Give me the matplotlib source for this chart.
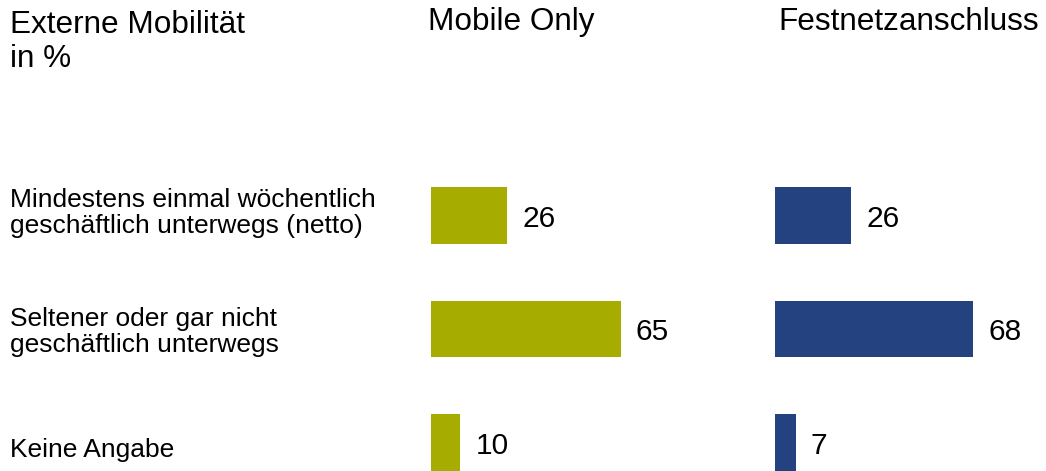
import matplotlib
matplotlib.use("Agg")
import matplotlib.pyplot as plt

plt.rcParams["font.family"] = ["Liberation Sans", "DejaVu Sans"]

# Daten
categories = [
    "Mindestens einmal wöchentlich\ngeschäftlich unterwegs (netto)",
    "Seltener oder gar nicht\ngeschäftlich unterwegs",
    "Keine Angabe",
]
mobile_only = [26, 65, 10]
festnetz = [26, 68, 7]
title = "Externe Mobilität\nin %"
group_titles = ["Mobile Only", "Festnetzanschluss"]

W, H = 1046, 471
GREEN = "#a6ad00"
BLUE = "#254280"


def fx(px):
    return px / W


def fy(py):
    return 1 - py / H


fig = plt.figure(figsize=(W / 100, H / 100), dpi=100)
fig.patch.set_facecolor("white")

# Achsen: 2.912 px pro Prozentpunkt, Zeilenabstand 113.5 px
ax_h = (471 - 158.75) / H
ax1 = fig.add_axes([fx(431.3), 0, 100 * 2.912 / W, ax_h])
ax2 = fig.add_axes([fx(775.3), 0, 80 * 2.912 / W, ax_h])

rows = list(range(len(categories)))
for ax, vals, color, xmax in ((ax1, mobile_only, GREEN, 100), (ax2, festnetz, BLUE, 80)):
    ax.barh(rows, vals, height=0.5, color=color, linewidth=0)
    ax.set_xlim(0, xmax)
    ax.set_ylim(2.25, -0.5)
    ax.axis("off")
    for r, v in zip(rows, vals):
        ax.annotate(str(v), xy=(v, r), xytext=(11, 0), textcoords="offset points",
                    va="center_baseline", ha="left", fontsize=21.5, color="black",
                    annotation_clip=False)

# Titel (va=baseline richtet bei mehrzeiligem Text an der letzten Zeile aus)
fig.text(fx(10.5), fy(66.7), title, fontsize=22.7, va="baseline", ha="left",
         linespacing=1.17)
fig.text(fx(428), fy(30), group_titles[0], fontsize=22.7, va="baseline", ha="left")
fig.text(fx(778), fy(30), group_titles[1], fontsize=22.7, va="baseline", ha="left")

# Kategorien
label_baselines = [233.3, 351.7, 456.7]
for lab, b in zip(categories, label_baselines):
    fig.text(fx(10), fy(b), lab, fontsize=19, va="baseline", ha="left",
             linespacing=1.1)

fig.savefig("out.png", dpi=100, facecolor="white")
